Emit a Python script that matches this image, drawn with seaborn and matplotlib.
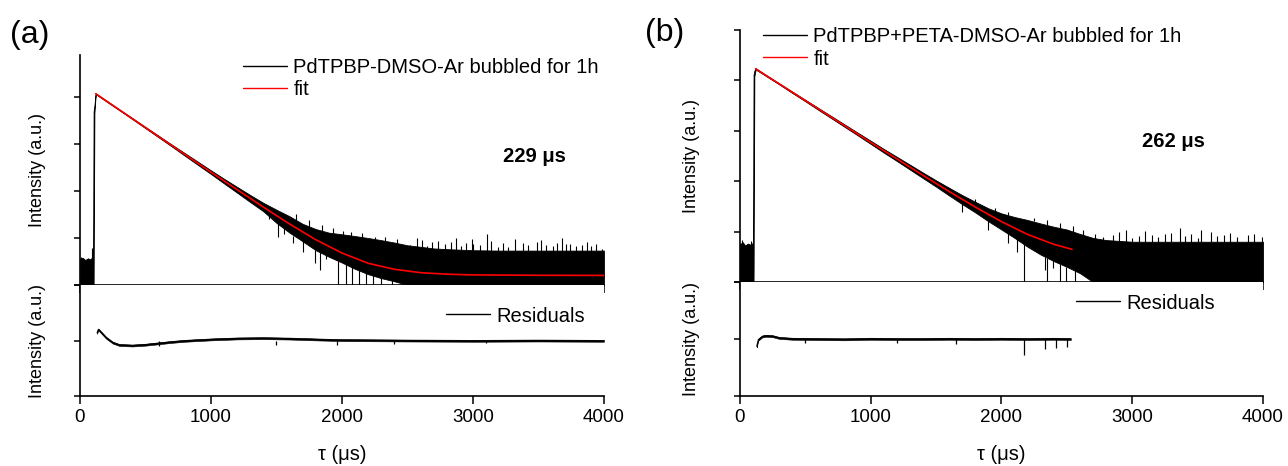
import numpy as np
import pandas as pd
import seaborn as sns
import matplotlib.pyplot as plt
from matplotlib.lines import Line2D
from matplotlib.ticker import NullLocator

# ---- panel (a): PdTPBP-DMSO, decay trace envelope (intensity, log axis) ----
tau_a = [0, 20, 40, 60, 80, 100, 104, 110, 120, 200, 300, 400, 500, 600, 700, 800, 900,
         1000, 1100, 1200, 1300, 1400, 1500, 1600, 1700, 1800, 1900, 2000, 2100, 2200,
         2300, 2400, 2500, 2600, 2700, 2800, 3000, 3200, 3400, 3600, 3800, 4000]
hi_a = [3.6, 3.8, 3.4, 3.7, 3.5, 4.2, 4900, 6500, 12000, 8450, 5450, 3550, 2300, 1500, 975,
        640, 420, 275, 182, 122, 82, 56, 40, 29, 20, 15.5, 13, 12, 11, 10, 9, 8, 7, 6.5, 6,
        5.8, 5.5, 5.4, 5.4, 5.4, 5.4, 5.4]
lo_a = [1, 1, 1, 1, 1, 1, 1, 4500, 11500, 8100, 5250, 3380, 2170, 1390, 890, 565, 360, 230,
        145, 92, 58, 37, 21, 13, 8.5, 5.5, 4, 3, 2.2, 1.7, 1.4, 1.2, 1, 1, 1, 1, 1, 1, 1, 1, 1, 1]
fit_t_a = [120, 200, 300, 400, 500, 600, 700, 800, 900, 1000, 1200, 1400, 1600, 1800, 2000,
           2200, 2400, 2600, 2800, 3000, 3500, 4000]
fit_a = [11750, 8280, 5355, 3460, 2235, 1443, 933, 603, 389, 252, 107, 45.5, 19.9, 9.2, 4.8,
         2.9, 2.16, 1.83, 1.70, 1.64, 1.61, 1.60]
# upward noise spikes: position, foot, tip
up_t_a = [10, 89, 1650, 1750, 1850, 1930, 2010, 2070, 2150, 2252, 2330, 2420, 2520, 2570,
          2610, 2650, 2684, 2730, 2790, 2830, 2868, 2910, 2950, 2990, 3000, 3050, 3104, 3140,
          3190, 3230, 3270, 3320, 3380, 3420, 3486, 3520, 3560, 3610, 3640, 3677, 3710, 3740,
          3790, 3830, 3870, 3900, 3940, 3982]
up_lo_a = [3, 3, 24, 17, 14, 12.5, 11.5, 11, 10, 9.5, 8.5, 7.8] + [5] * 36
up_v_a = [3.9, 6, 32, 24, 19, 16, 14, 13.5, 12.5, 10.5, 10.5, 9.5, 7.2, 10, 9, 6.6, 8.3, 8.8,
          7.5, 8.2, 9.8, 6.9, 8, 9.5, 7.5, 7, 12, 8.6, 6.5, 7.9, 6.5, 9.3, 7.8, 7.1, 8.3, 8.9,
          7.2, 6.7, 8, 9.8, 7.3, 7.6, 6.9, 7, 8.4, 6.8, 7.6, 5.8]
# downward spikes: position, tip, foot
dn_t_a = [1440, 1512, 1560, 1630, 1700, 1794, 1832, 1880, 1972, 2030, 2080, 2130, 2180, 2240,
          2300, 2380, 2450]
dn_lo_a = [25, 10.6, 12, 7.8, 5, 2.9, 2.1, 3.5, 1, 1, 1, 1, 1, 1, 1, 1, 1]
dn_hi_a = [33, 21, 16, 11, 8.5, 5.5, 5, 4.3, 3.2, 2.8, 2.4, 2.1, 1.8, 1.6, 1.4, 1.25, 1.1]
res_t_a = [130, 140, 160, 200, 250, 300, 400, 500, 600, 700, 800, 1000, 1200, 1400, 1600,
           1800, 2000, 2500, 3000, 3500, 4000]
res_a = [0.55, 0.8, 0.6, 0.2, -0.15, -0.32, -0.36, -0.3, -0.2, -0.1, -0.02, 0.08, 0.15, 0.17,
         0.14, 0.08, 0.03, 0.0, -0.02, 0.0, -0.02]
res_noise_a = 0.07
rs_t_a = [600, 1500, 1960, 2400, 3100]
rs_lo_a = [-0.4, -0.3, -0.35, -0.25, -0.2]

# ---- panel (b): PdTPBP+PETA-DMSO ----
tau_b = tau_a
hi_b = [5.6, 6.2, 5.3, 5.8, 5.5, 6, 13000, 15500, 17500, 12800, 8750, 6000, 4120, 2830, 1950,
        1340, 920, 635, 437, 305, 213, 148, 104, 74, 53, 39, 29, 23, 19.5, 17, 14.5, 12.5, 11,
        9, 7.5, 6.8, 6.3, 6.3, 6.3, 6.3, 6.3, 6.3]
lo_b = [1, 1, 1, 1, 1, 1, 1, 12000, 16500, 12200, 8350, 5650, 3850, 2600, 1770, 1200, 815,
        550, 370, 252, 170, 115, 78, 52, 35, 24, 16, 11, 7.5, 5, 3.5, 2.6, 2, 1.5, 1, 1, 1, 1,
        1, 1, 1, 1]
fit_t_b = [120, 200, 300, 400, 500, 600, 700, 800, 900, 1000, 1200, 1400, 1600, 1800, 2000,
           2200, 2400, 2540]
fit_b = [16980, 12500, 8550, 5830, 3980, 2717, 1854, 1267, 865, 590, 278, 131, 62.5, 30.7,
         15.8, 8.8, 5.6, 4.45]
up_t_b = [15, 85, 1800, 1950, 2050, 2250, 2350, 2450, 2550, 2624, 2713, 2780, 2850, 2900,
          2956, 3000, 3050, 3100, 3150, 3200, 3250, 3300, 3364, 3400, 3450, 3500, 3528, 3600,
          3650, 3700, 3750, 3800, 3884, 3930, 3995]
up_lo_b = [5, 5, 38, 25, 21, 16, 13.5, 12, 10] + [6] * 26
up_v_b = [6.8, 6.5, 45, 30, 25, 19, 17, 15, 13, 10.7, 9.1, 8, 8.5, 9.8, 11, 7.6, 8.2, 10.2,
          8.5, 7.9, 8.8, 9.5, 11.7, 8.2, 9, 7.4, 11, 10, 8.1, 8.4, 9.2, 7.8, 8.6, 9, 7.9]
dn_t_b = [1700, 1900, 2050, 2120, 2171, 2332, 2345, 2396, 2446, 2497, 2560]
dn_lo_b = [25, 11, 6, 4, 1, 1.7, 1, 1.9, 1, 1, 1]
dn_hi_b = [36, 17, 9.5, 7, 5.7, 3.2, 3, 2.8, 2.3, 2, 1.7]
res_t_b = [128, 140, 170, 200, 250, 300, 400, 600, 800, 1000, 1200, 1400, 1600, 1800, 2000,
           2200, 2400, 2530]
res_b = [-0.51, -0.05, 0.18, 0.23, 0.2, 0.08, 0.02, 0.0, -0.02, 0.02, 0.0, 0.0, 0.02, 0.0,
         0.02, 0.0, 0.02, 0.0]
res_noise_b = 0.07
rs_t_b = [500, 1200, 1650, 2171, 2330, 2420, 2500]
rs_lo_b = [-0.3, -0.3, -0.35, -1.1, -0.68, -0.62, -0.55]

labels = ["PdTPBP-DMSO-Ar bubbled for 1h", "PdTPBP+PETA-DMSO-Ar bubbled for 1h"]
lifetimes = ["229 \u03bcs", "262 \u03bcs"]

sns.set_theme(style="ticks")
plt.rcParams['font.family'] = ['Liberation Sans', 'DejaVu Sans']
plt.rcParams.update({'axes.edgecolor': 'black', 'axes.linewidth': 1.2,
                     'xtick.color': 'black', 'ytick.color': 'black',
                     'text.color': 'black', 'axes.labelcolor': 'black'})

fig = plt.figure(figsize=(12.88, 4.66), dpi=100)


def panel(rect_main, rect_res, tau, hi, lo, fit_t, fit_v, up_t, up_lo, up_v, dn_t, dn_lo,
          dn_hi, res_t, res_v, res_noise, rs_t, rs_lo, ymax, yticks, label, life, life_xy,
          leg_xy, rleg_xy, ylab_x):
    ax = fig.add_axes(rect_main)
    rax = fig.add_axes(rect_res)
    ax.set_yscale('log')

    # measured trace drawn as its noise envelope plus the spikes
    ax.fill_between(tau, lo, hi, color='black', lw=0.6, zorder=2)
    ax.vlines(up_t, up_lo, up_v, color='black', lw=0.8, zorder=2)
    ax.vlines(dn_t, dn_lo, dn_hi, color='black', lw=0.8, zorder=2)
    fit_df = pd.DataFrame({'t': fit_t, 'I': fit_v})
    sns.lineplot(data=fit_df, x='t', y='I', ax=ax, color='red', lw=1.2, zorder=3,
                 legend=False)

    ax.set_xlim(0, 4000)
    ax.set_ylim(1, ymax)
    ax.set_yticks(yticks)
    ax.yaxis.set_minor_locator(NullLocator())
    ax.set_yticklabels([])
    ax.set_xticks([0, 1000, 2000, 3000, 4000])
    ax.set_xticklabels([])
    ax.set_xlabel('')
    ax.set_ylabel('Intensity (a.u.)', fontsize=13)
    ax.yaxis.set_label_coords(ylab_x, 0.5)
    ax.tick_params(axis='y', direction='out', length=4, width=1.1)
    ax.tick_params(axis='x', direction='out', length=6, width=1.1)
    for s in ['top', 'right']:
        ax.spines[s].set_visible(False)

    handles = [Line2D([], [], color='black', lw=1, label=label),
               Line2D([], [], color='red', lw=1, label='fit')]
    ax.legend(handles=handles, loc='upper left', bbox_to_anchor=leg_xy, frameon=False,
              fontsize=14.5, borderpad=0, borderaxespad=0, handlelength=2.2,
              handletextpad=0.3, labelspacing=0.15)
    ax.text(life_xy[0], life_xy[1], life, transform=ax.transAxes, fontsize=14.5,
            fontweight='bold', ha='center', va='center')

    # residuals
    rax.fill_between(res_t, np.array(res_v) - res_noise, np.array(res_v) + res_noise,
                     color='black', lw=0.4)
    res_df = pd.DataFrame({'t': res_t, 'r': res_v})
    sns.lineplot(data=res_df, x='t', y='r', ax=rax, color='black', lw=0.7, legend=False)
    rax.vlines(rs_t, rs_lo, 0, color='black', lw=0.9)
    rax.set_xlim(0, 4000)
    rax.set_ylim(-4, 4)
    rax.set_yticks([-4, 0, 4])
    rax.set_yticklabels([])
    rax.set_xticks([0, 1000, 2000, 3000, 4000])
    rax.tick_params(axis='y', direction='out', length=4, width=1.1)
    rax.tick_params(axis='x', direction='out', length=6, width=1.1, labelsize=13.5, pad=3)
    rax.set_xlabel('\u03c4 (\u03bcs)', fontsize=14.5, labelpad=14)
    rax.set_ylabel('Intensity (a.u.)', fontsize=13)
    rax.yaxis.set_label_coords(ylab_x, 0.5)
    for s in ['top', 'right']:
        rax.spines[s].set_visible(False)
    rax.legend(handles=[Line2D([], [], color='black', lw=1, label='Residuals')],
               loc='upper left', bbox_to_anchor=rleg_xy, frameon=False, fontsize=14.5,
               borderpad=0, borderaxespad=0, handlelength=2.2, handletextpad=0.3)


panel([0.0621, 0.3884, 0.4068, 0.4936], [0.0621, 0.1502, 0.4068, 0.2382],
      tau_a, hi_a, lo_a, fit_t_a, fit_a, up_t_a, up_lo_a, up_v_a, dn_t_a, dn_lo_a, dn_hi_a,
      res_t_a, res_a, res_noise_a, rs_t_a, rs_lo_a,
      10 ** 4.894, [1, 10, 100, 1000, 10000], labels[0], lifetimes[0], (0.868, 0.557),
      (0.311, 0.985), (0.698, 0.806), -0.064)
panel([0.5745, 0.3948, 0.4061, 0.5408], [0.5745, 0.1502, 0.4061, 0.2446],
      tau_b, hi_b, lo_b, fit_t_b, fit_b, up_t_b, up_lo_b, up_v_b, dn_t_b, dn_lo_b, dn_hi_b,
      res_t_b, res_b, res_noise_b, rs_t_b, rs_lo_b,
      1e5, [1, 10, 100, 1000, 10000, 100000], labels[1], lifetimes[1], (0.828, 0.556),
      (0.044, 1.01), (0.642, 0.899), -0.077)

fig.text(10 / 1288, 1 - 35 / 466, '(a)', fontsize=23, ha='left', va='center')
fig.text(645 / 1288, 1 - 33 / 466, '(b)', fontsize=23, ha='left', va='center')

fig.savefig('out.png', dpi=100)
